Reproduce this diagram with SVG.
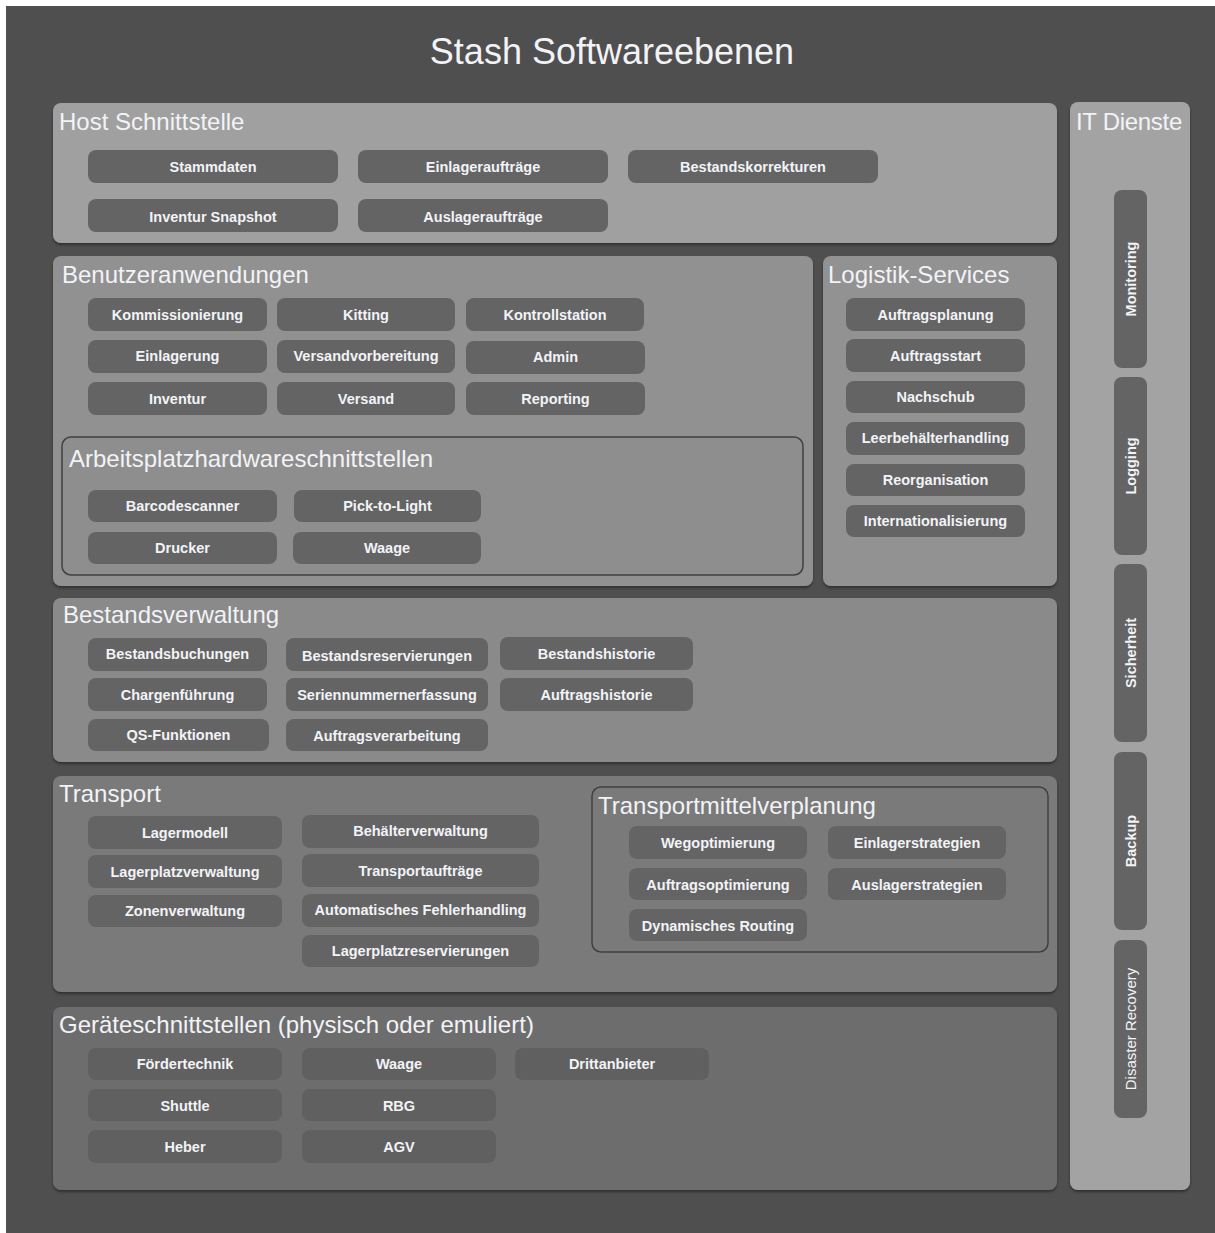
<svg xmlns="http://www.w3.org/2000/svg" width="1215" height="1233" viewBox="0 0 1215 1233">
<defs>
<filter id="sh" x="-5%" y="-5%" width="110%" height="115%"><feDropShadow dx="0" dy="2" stdDeviation="1" flood-color="#2e2e2e" flood-opacity="0.9"/></filter>
<style>
.pt{font-family:"Liberation Sans",Arial,sans-serif;font-size:24px;fill:#f2f3f7}
.nd rect{fill:#646464}
.nd text{font-family:"Liberation Sans",Arial,sans-serif;font-size:14.5px;font-weight:bold;fill:#f2f3f7;text-anchor:middle}
.vt{font-family:"Liberation Sans",Arial,sans-serif;font-size:14px;font-weight:bold;fill:#f2f3f7;text-anchor:middle}
.sub{stroke:#404040;stroke-width:1.5}
</style>
</defs>
<rect x="0" y="0" width="1215" height="1233" fill="#ffffff"/>
<rect x="6" y="6" width="1209" height="1227" fill="#4f4f4f"/>
<text x="612" y="64" font-family="Liberation Sans,Arial,sans-serif" font-size="36" fill="#f2f3f7" text-anchor="middle">Stash Softwareebenen</text>

<g id="host">
<rect x="53" y="103" width="1004" height="140" rx="8" fill="#a0a0a0" filter="url(#sh)"/>
<text class="pt" x="59" y="130">Host Schnittstelle</text>
<g class="nd" id="n-stammdaten"><rect x="88" y="150" width="250" height="33" rx="8"/><text x="213" y="172">Stammdaten</text></g>
<g class="nd" id="n-einlagerauftraege"><rect x="358" y="150" width="250" height="33" rx="8"/><text x="483" y="172">Einlageraufträge</text></g>
<g class="nd" id="n-bestandskorrekturen"><rect x="628" y="150" width="250" height="33" rx="8"/><text x="753" y="172">Bestandskorrekturen</text></g>
<g class="nd" id="n-inventursnapshot"><rect x="88" y="199" width="250" height="33" rx="8"/><text x="213" y="222">Inventur Snapshot</text></g>
<g class="nd" id="n-auslagerauftraege"><rect x="358" y="199" width="250" height="33" rx="8"/><text x="483" y="222">Auslageraufträge</text></g>
</g>

<g id="it">
<rect x="1070" y="102" width="120" height="1088" rx="8" fill="#a3a3a3" filter="url(#sh)"/>
<text class="pt" x="1076" y="130" style="letter-spacing:-0.3px">IT Dienste</text>
<g class="nd" id="n-monitoring"><rect x="1114" y="190" width="33" height="178" rx="8"/><text class="vt" transform="translate(1135.5,279) rotate(-90)">Monitoring</text></g>
<g class="nd" id="n-logging"><rect x="1114" y="377" width="33" height="178" rx="8"/><text class="vt" transform="translate(1135.5,466) rotate(-90)">Logging</text></g>
<g class="nd" id="n-sicherheit"><rect x="1114" y="564" width="33" height="178" rx="8"/><text class="vt" transform="translate(1135.5,653) rotate(-90)">Sicherheit</text></g>
<g class="nd" id="n-backup"><rect x="1114" y="752" width="33" height="178" rx="8"/><text class="vt" transform="translate(1135.5,841) rotate(-90)">Backup</text></g>
<g class="nd" id="n-disaster"><rect x="1114" y="940" width="33" height="178" rx="8"/><text class="vt" style="font-weight:normal;font-size:15px" transform="translate(1135.5,1029) rotate(-90)">Disaster Recovery</text></g>
</g>

<g id="benutzer">
<rect x="53" y="256" width="760" height="330" rx="8" fill="#919191" filter="url(#sh)"/>
<text class="pt" x="62" y="283">Benutzeranwendungen</text>
<g class="nd" id="n-kommissionierung"><rect x="88" y="298" width="179" height="33" rx="8"/><text x="177.5" y="320">Kommissionierung</text></g>
<g class="nd" id="n-kitting"><rect x="277" y="298" width="178" height="33" rx="8"/><text x="366" y="320">Kitting</text></g>
<g class="nd" id="n-kontrollstation"><rect x="466" y="298" width="178" height="33" rx="8"/><text x="555" y="320">Kontrollstation</text></g>
<g class="nd" id="n-einlagerung"><rect x="88" y="340" width="179" height="33" rx="8"/><text x="177.5" y="361">Einlagerung</text></g>
<g class="nd" id="n-versandvorbereitung"><rect x="277" y="340" width="178" height="33" rx="8"/><text x="366" y="361">Versandvorbereitung</text></g>
<g class="nd" id="n-admin"><rect x="466" y="341" width="179" height="33" rx="8"/><text x="555.5" y="362">Admin</text></g>
<g class="nd" id="n-inventur"><rect x="88" y="382" width="179" height="33" rx="8"/><text x="177.5" y="404">Inventur</text></g>
<g class="nd" id="n-versand"><rect x="277" y="382" width="178" height="33" rx="8"/><text x="366" y="404">Versand</text></g>
<g class="nd" id="n-reporting"><rect x="466" y="382" width="179" height="33" rx="8"/><text x="555.5" y="404">Reporting</text></g>
</g>

<g id="arbeitsplatz">
<rect class="sub" x="62" y="437" width="741" height="138" rx="9" fill="#8e8e8e"/>
<text class="pt" x="69" y="467">Arbeitsplatzhardwareschnittstellen</text>
<g class="nd" id="n-barcodescanner"><rect x="88" y="490" width="189" height="32" rx="8"/><text x="182.5" y="511">Barcodescanner</text></g>
<g class="nd" id="n-picktolight"><rect x="294" y="490" width="187" height="32" rx="8"/><text x="387.5" y="511">Pick-to-Light</text></g>
<g class="nd" id="n-drucker"><rect x="88" y="532" width="189" height="32" rx="8"/><text x="182.5" y="553">Drucker</text></g>
<g class="nd" id="n-waage1"><rect x="293" y="532" width="188" height="32" rx="8"/><text x="387" y="553">Waage</text></g>
</g>

<g id="logistik">
<rect x="823" y="256" width="234" height="330" rx="8" fill="#929292" filter="url(#sh)"/>
<text class="pt" x="828" y="283">Logistik-Services</text>
<g class="nd" id="n-auftragsplanung"><rect x="846" y="298" width="179" height="33" rx="8"/><text x="935.5" y="320">Auftragsplanung</text></g>
<g class="nd" id="n-auftragsstart"><rect x="846" y="339" width="179" height="33" rx="8"/><text x="935.5" y="361">Auftragsstart</text></g>
<g class="nd" id="n-nachschub"><rect x="846" y="381" width="179" height="32" rx="8"/><text x="935.5" y="402">Nachschub</text></g>
<g class="nd" id="n-leerbehaelter"><rect x="846" y="422" width="179" height="33" rx="8"/><text x="935.5" y="443">Leerbehälterhandling</text></g>
<g class="nd" id="n-reorganisation"><rect x="846" y="464" width="179" height="32" rx="8"/><text x="935.5" y="485">Reorganisation</text></g>
<g class="nd" id="n-international"><rect x="846" y="505" width="179" height="32" rx="8"/><text x="935.5" y="526">Internationalisierung</text></g>
</g>

<g id="bestand">
<rect x="53" y="598" width="1004" height="164" rx="8" fill="#8a8a8a" filter="url(#sh)"/>
<text class="pt" x="63" y="623">Bestandsverwaltung</text>
<g class="nd" id="n-bestandsbuchungen"><rect x="88" y="638" width="179" height="33" rx="8"/><text x="177.5" y="659">Bestandsbuchungen</text></g>
<g class="nd" id="n-bestandsreservierungen"><rect x="286" y="638" width="202" height="33" rx="8"/><text x="387" y="661">Bestandsreservierungen</text></g>
<g class="nd" id="n-bestandshistorie"><rect x="500" y="637" width="193" height="33" rx="8"/><text x="596.5" y="659">Bestandshistorie</text></g>
<g class="nd" id="n-chargen"><rect x="88" y="678" width="179" height="33" rx="8"/><text x="177.5" y="700">Chargenführung</text></g>
<g class="nd" id="n-serien"><rect x="286" y="678" width="202" height="33" rx="8"/><text x="387" y="700">Seriennummernerfassung</text></g>
<g class="nd" id="n-auftragshistorie"><rect x="500" y="678" width="193" height="33" rx="8"/><text x="596.5" y="700">Auftragshistorie</text></g>
<g class="nd" id="n-qs"><rect x="88" y="719" width="181" height="32" rx="8"/><text x="178.5" y="740">QS-Funktionen</text></g>
<g class="nd" id="n-auftragsverarbeitung"><rect x="286" y="719" width="202" height="32" rx="8"/><text x="387" y="741">Auftragsverarbeitung</text></g>
</g>

<g id="transport">
<rect x="53" y="776" width="1004" height="216" rx="8" fill="#7a7a7a" filter="url(#sh)"/>
<text class="pt" x="59" y="802">Transport</text>
<g class="nd" id="n-lagermodell"><rect x="88" y="816" width="194" height="33" rx="8"/><text x="185" y="838">Lagermodell</text></g>
<g class="nd" id="n-lagerplatzverwaltung"><rect x="88" y="855" width="194" height="33" rx="8"/><text x="185" y="877">Lagerplatzverwaltung</text></g>
<g class="nd" id="n-zonenverwaltung"><rect x="88" y="895" width="194" height="32" rx="8"/><text x="185" y="916">Zonenverwaltung</text></g>
<g class="nd" id="n-behaelter"><rect x="302" y="815" width="237" height="33" rx="8"/><text x="420.5" y="836">Behälterverwaltung</text></g>
<g class="nd" id="n-transportauftraege"><rect x="302" y="854" width="237" height="33" rx="8"/><text x="420.5" y="876">Transportaufträge</text></g>
<g class="nd" id="n-fehlerhandling"><rect x="302" y="894" width="237" height="33" rx="8"/><text x="420.5" y="915">Automatisches Fehlerhandling</text></g>
<g class="nd" id="n-lagerplatzres"><rect x="302" y="935" width="237" height="32" rx="8"/><text x="420.5" y="956">Lagerplatzreservierungen</text></g>
</g>

<g id="transportmittel">
<rect class="sub" x="592" y="787" width="456" height="165" rx="9" fill="#7a7a7a"/>
<text class="pt" x="598" y="814">Transportmittelverplanung</text>
<g class="nd" id="n-wegopt"><rect x="629" y="826" width="178" height="33" rx="8"/><text x="718" y="848">Wegoptimierung</text></g>
<g class="nd" id="n-einlagerstrat"><rect x="828" y="826" width="178" height="33" rx="8"/><text x="917" y="848">Einlagerstrategien</text></g>
<g class="nd" id="n-auftragsopt"><rect x="629" y="868" width="178" height="32" rx="8"/><text x="718" y="890">Auftragsoptimierung</text></g>
<g class="nd" id="n-auslagerstrat"><rect x="828" y="868" width="178" height="32" rx="8"/><text x="917" y="890">Auslagerstrategien</text></g>
<g class="nd" id="n-routing"><rect x="629" y="909" width="178" height="32" rx="8"/><text x="718" y="931">Dynamisches Routing</text></g>
</g>

<g id="geraete">
<rect x="53" y="1007" width="1004" height="183" rx="8" fill="#6d6d6d" filter="url(#sh)"/>
<text class="pt" x="59" y="1033">Geräteschnittstellen (physisch oder emuliert)</text>
<g class="nd" id="n-foerdertechnik"><rect x="88" y="1048" width="194" height="32" rx="8" style="fill:#606060"/><text x="185" y="1069">Fördertechnik</text></g>
<g class="nd" id="n-waage2"><rect x="302" y="1048" width="194" height="32" rx="8" style="fill:#606060"/><text x="399" y="1069">Waage</text></g>
<g class="nd" id="n-drittanbieter"><rect x="515" y="1048" width="194" height="32" rx="8" style="fill:#606060"/><text x="612" y="1069">Drittanbieter</text></g>
<g class="nd" id="n-shuttle"><rect x="88" y="1089" width="194" height="32" rx="8" style="fill:#606060"/><text x="185" y="1111">Shuttle</text></g>
<g class="nd" id="n-rbg"><rect x="302" y="1089" width="194" height="32" rx="8" style="fill:#606060"/><text x="399" y="1111">RBG</text></g>
<g class="nd" id="n-heber"><rect x="88" y="1130" width="194" height="33" rx="8" style="fill:#606060"/><text x="185" y="1152">Heber</text></g>
<g class="nd" id="n-agv"><rect x="302" y="1130" width="194" height="33" rx="8" style="fill:#606060"/><text x="399" y="1152">AGV</text></g>
</g>

<g id="connectors"></g>
</svg>
